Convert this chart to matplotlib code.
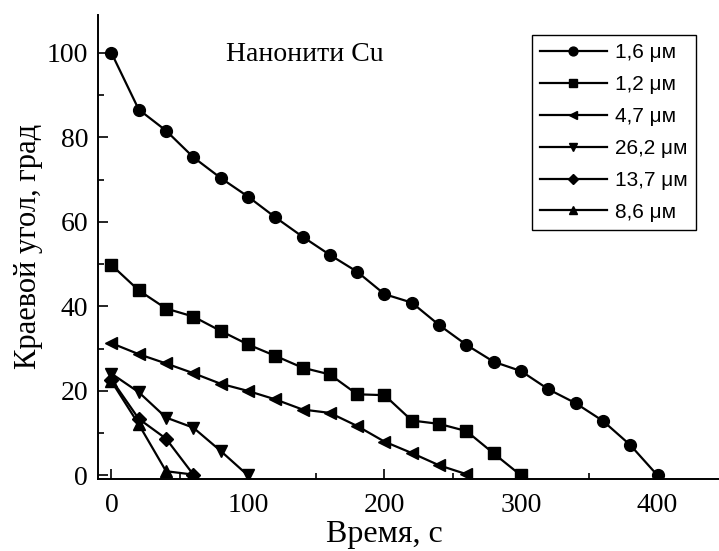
import matplotlib
matplotlib.use("Agg")
import matplotlib.pyplot as plt

# время, с
t_16 = [0, 20, 40, 60, 80, 100, 120, 140, 160, 180, 200, 220, 240, 260, 280, 300, 320, 340, 360, 380, 400]
a_16 = [100, 86.6, 81.6, 75.3, 70.4, 66.0, 61.1, 56.5, 52.2, 48.2, 42.9, 40.9, 35.6, 30.9, 26.9, 24.7, 20.4, 17.1, 12.9, 7.2, 0]

t_12 = [0, 20, 40, 60, 80, 100, 120, 140, 160, 180, 200, 220, 240, 260, 280, 300]
a_12 = [49.8, 43.8, 39.5, 37.6, 34.2, 31.0, 28.3, 25.5, 23.9, 19.2, 19.0, 13.0, 12.2, 10.5, 5.2, 0]

t_47 = [0, 20, 40, 60, 80, 100, 120, 140, 160, 180, 200, 220, 240, 260]
a_47 = [31.3, 28.7, 26.5, 24.2, 21.7, 20.0, 18.0, 15.6, 14.8, 11.7, 8.0, 5.3, 2.4, 0.3]

t_262 = [0, 20, 40, 60, 80, 100]
a_262 = [24.1, 19.7, 13.7, 11.3, 5.8, 0]

t_137 = [0, 20, 40, 60]
a_137 = [22.7, 13.4, 8.7, 0.2]

t_86 = [0, 20, 40, 60]
a_86 = [22.3, 12.1, 1.0, 0.2]

labels = ['1,6 μм', '1,2 μм', '4,7 μм', '26,2 μм', '13,7 μм', '8,6 μм']
markers = ['o', 's', '<', 'v', 'D', '^']
series = [(t_16, a_16), (t_12, a_12), (t_47, a_47), (t_262, a_262), (t_137, a_137), (t_86, a_86)]

plt.rcParams['font.family'] = ['Liberation Serif', 'DejaVu Serif']

fig = plt.figure(figsize=(7.19, 5.51), dpi=100)
ax = fig.add_axes([0.136, 0.131, 0.864, 0.842])

for (t, a), m, lab in zip(series, markers, labels):
    ms = 8.5 if m != 'D' else 7
    ax.plot(t, a, color='black', lw=1.6, marker=m, ms=ms, label=lab)

ax.set_xlim(-10, 445)
ax.set_ylim(-0.8, 109)
ax.set_xticks([0, 100, 200, 300, 400])
ax.set_xticks([50, 150, 250, 350], minor=True)
ax.set_yticks([0, 20, 40, 60, 80, 100])
ax.set_yticks([10, 30, 50, 70, 90], minor=True)
ax.tick_params(which='major', direction='in', length=7, width=1.2, labelsize=20)
ax.tick_params(axis='x', which='major', pad=10)
ax.tick_params(axis='y', which='major', pad=7)
ax.tick_params(which='minor', direction='in', length=4, width=1.2)
ax.spines['top'].set_visible(False)
ax.spines['right'].set_visible(False)
ax.spines['left'].set_linewidth(1.4)
ax.spines['bottom'].set_linewidth(1.4)

ax.set_xlabel('Время, с', fontsize=23, labelpad=2, x=0.461)
ax.set_ylabel('Краевой угол, град', fontsize=22, labelpad=3)

ax.text(84, 98, 'Нанонити Cu', fontsize=20, va='baseline', ha='left')

leg = ax.legend(loc='upper right', bbox_to_anchor=(0.963, 0.957), borderaxespad=0,
                fancybox=False, edgecolor='black', framealpha=1,
                prop={'family': ['Liberation Sans'], 'size': 15},
                handlelength=3.2, markerscale=0.75, labelspacing=0.62,
                handletextpad=0.4, borderpad=0.4)
leg.get_frame().set_linewidth(1.0)

fig.savefig('out.png', dpi=100)
